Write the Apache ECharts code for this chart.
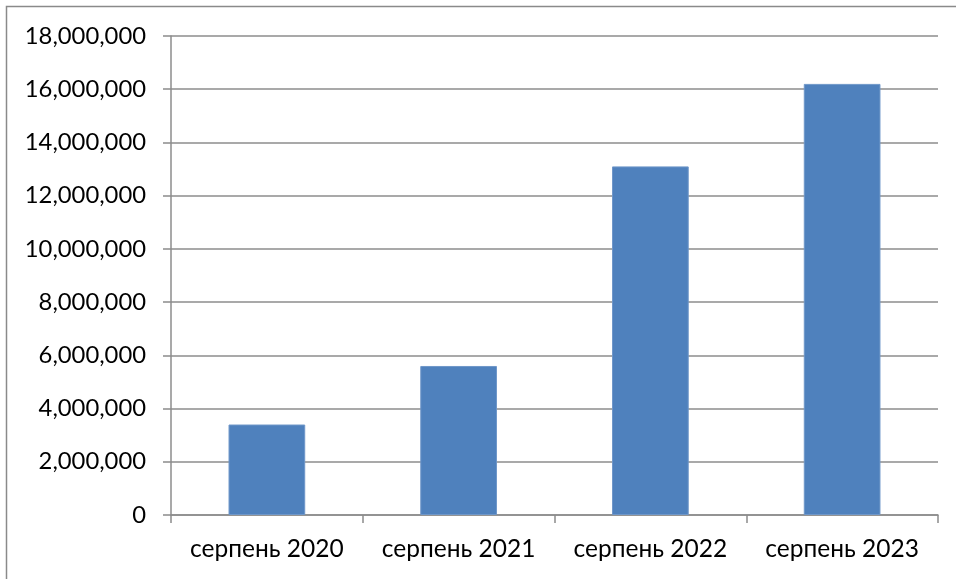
<!DOCTYPE html>
<html>
<head>
<meta charset="utf-8">
<script src="https://cdn.jsdelivr.net/npm/echarts@6/dist/echarts.min.js"></script>
<style>
  html, body { margin: 0; padding: 0; background: #fff; }
  #chart { width: 956px; height: 579px; }
</style>
</head>
<body>
<div id="chart"></div>
<script>
// data
const categories = ['серпень 2020', 'серпень 2021', 'серпень 2022', 'серпень 2023'];
const values = [3400000, 5600000, 13100000, 16200000];
const yMin = 0;
const yMax = 18000000;
const yStep = 2000000;

const font = 'Lato, "Open Sans", sans-serif';
const axisGray = '#8c8c8c';

const chart = echarts.init(document.getElementById('chart'), null, { renderer: 'canvas' });

chart.setOption({
  animation: false,
  backgroundColor: '#fff',
  grid: { left: 171, right: 18, top: 36, bottom: 64, containLabel: false },
  graphic: [{
    type: 'rect',
    shape: { x: 6.5, y: 6.5, width: 980, height: 620 },
    style: { fill: 'none', stroke: '#8a8a8a', lineWidth: 1.5 },
    silent: true
  }],
  xAxis: {
    type: 'category',
    data: categories,
    axisLine: { lineStyle: { color: axisGray, width: 1.5 } },
    axisTick: { show: true, length: 8, interval: 0, alignWithLabel: false, lineStyle: { color: axisGray, width: 1.5 } },
    axisLabel: { color: '#000', fontFamily: font, fontSize: 24.5, margin: 22, interval: 0, hideOverlap: false }
  },
  yAxis: {
    type: 'value',
    min: yMin,
    max: yMax,
    interval: yStep,
    axisLine: { show: true, lineStyle: { color: axisGray, width: 1.5 } },
    axisTick: { show: true, length: 8, lineStyle: { color: axisGray, width: 1.5 } },
    splitLine: { show: true, lineStyle: { color: axisGray, width: 1.5 } },
    axisLabel: {
      color: '#000',
      fontFamily: font,
      fontSize: 23.8,
      margin: 25,
      formatter: v => v.toLocaleString('en-US')
    }
  },
  series: [{
    type: 'bar',
    data: values,
    barWidth: '40%',
    itemStyle: { color: '#4f81bd', borderColor: '#6f97c9', borderWidth: 1 }
  }]
});
</script>
</body>
</html>
